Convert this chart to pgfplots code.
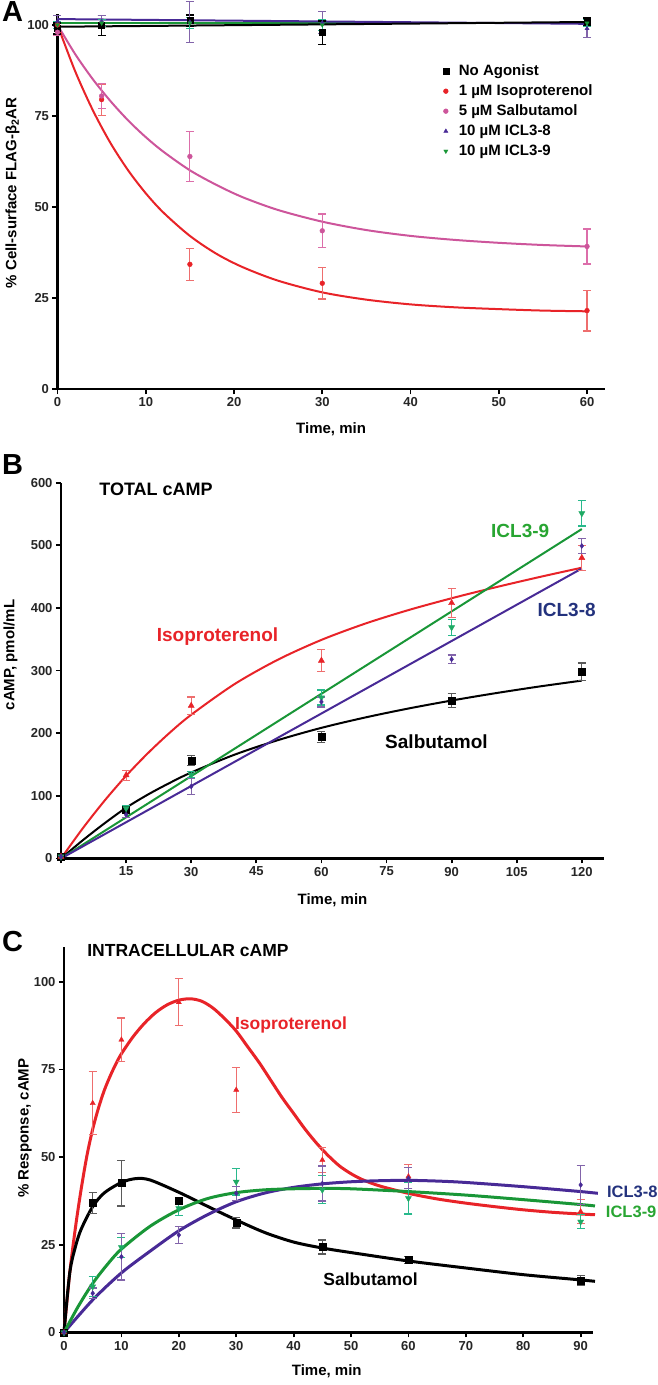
\documentclass[border=0pt]{standalone}
\usepackage{fontspec}
\setmainfont{Liberation Sans}
\usepackage{pgfplots}
\pgfplotsset{compat=1.18}
\definecolor{cred}{RGB}{232,35,40}
\definecolor{credbar}{RGB}{238,110,110}
\definecolor{cpink}{RGB}{205,85,155}
\definecolor{cpinkbar}{RGB}{220,110,170}
\definecolor{cviol}{RGB}{72,42,150}
\definecolor{cviolbar}{RGB}{130,100,170}
\definecolor{cgreen}{RGB}{25,150,55}
\definecolor{cgreenmk}{RGB}{30,170,100}
\definecolor{cgreenbar}{RGB}{40,185,140}
\definecolor{cgray}{RGB}{90,90,90}
\definecolor{clab8}{RGB}{35,50,125}
\definecolor{clab9}{RGB}{40,165,50}
\newcommand\fs[1]{\bfseries\fontsize{#1}{#1}\selectfont}
\pgfplotsset{
 prism/.style={scale only axis, axis x line=bottom, axis y line=left,
   axis line style={-, line width=2.2pt, black},
   tick align=outside, major tick length=5pt,
   tick style={line width=1.8pt, black},
   tick label style={font=\fs{13}, text=black!85},
   /pgf/number format/assume math mode=true,
   label style={font=\fs{15}},
   clip=false, anchor=south west},
 eb/.style={/pgfplots/error bars/y dir=both, /pgfplots/error bars/y explicit,
   /pgfplots/error bars/error bar style={line width=1.2pt, #1},
   /pgfplots/error bars/error mark options={rotate=90, mark size=4pt, line width=1.2pt, #1}},
}
\begin{document}
\begin{tikzpicture}
\useasboundingbox (0,0) rectangle (658pt,1385pt);
% ---------------- Panel A ----------------
\begin{axis}[prism, at={(57.5pt,995.7pt)}, width=547.2pt, height=375.3pt,
  xmin=0, xmax=62, ymin=0, ymax=103,
  xtick={0,10,...,60}, ytick={0,25,50,75,100},
  xlabel={Time, min}, ylabel={\% Cell-surface FLAG-β\textsubscript{2}AR},
  xlabel style={at={(axis description cs:0.5,-0.1066)}, anchor=center},
  ylabel style={at={(axis description cs:-0.0822,0.523)}, anchor=center},
  legend cell align=left,
  legend style={at={(axis cs:43.3,90.1)}, anchor=north west, draw=none, fill=none,
    font=\fs{15}, row sep=4pt, nodes={inner sep=1pt, text height=11pt, text depth=3pt},
    /tikz/every odd column/.append style={column sep=9pt}}]
\addplot[cgreen, line width=2pt, forget plot] coordinates {(0,100.4)(60,100.4)};
\addplot[cpink, line width=2pt, smooth, tension=0.5, forget plot] coordinates {
 (0,100)(2,92.0)(4,85.1)(6,79.1)(8,73.8)(10,69.2)(12,65.2)(15,60.1)(18,56.1)(21,52.7)
 (25,49.2)(30,46.0)(35,43.7)(40,42.1)(45,41.0)(50,40.2)(55,39.6)(60,39.2)};
\addplot[cred, line width=2pt, smooth, tension=0.5, forget plot] coordinates {
 (0,100)(2,87.3)(4,76.6)(6,67.6)(8,60.1)(10,53.8)(12,48.5)(15,42.1)(18,37.2)(21,33.5)
 (25,29.8)(30,26.6)(35,24.6)(40,23.3)(45,22.5)(50,22.0)(55,21.6)(60,21.4)};
\addplot[cviol, line width=2pt, forget plot] coordinates {(0,101.6)(60,100.3)};
\addplot[black, line width=2pt, forget plot] coordinates {(0,99.5)(60,100.8)};
\addplot[only marks, mark=square*, mark size=3pt, black, eb={black}] coordinates {
 (0,99) +- (0,1.5) (5,99.8) +- (0,2.7) (15,101.2) +- (0,1.5) (30,97.9) +- (0,3.2) (60,100.9) +- (0,1)};
\addlegendentry{No Agonist}
\addplot[only marks, mark=*, mark size=2.4pt, cred, eb={credbar}] coordinates {
 (0,100) +- (0,1) (5,79.5) +- (0,4.3) (15,34.3) +- (0,4.4) (30,29.1) +- (0,4.3) (60,21.6) +- (0,5.6)};
\addlegendentry{1 µM Isoproterenol}
\addplot[only marks, mark=*, mark size=2.4pt, cpink, eb={cpinkbar}] coordinates {
 (0,98) +- (0,1) (5,80.5) +- (0,3.5) (15,63.9) +- (0,6.8) (30,43.5) +- (0,4.6) (60,39.2) +- (0,4.8)};
\addlegendentry{5 µM Salbutamol}
\addplot[only marks, mark=triangle*, mark size=2.4pt, cviol, eb={cviolbar}] coordinates {
 (0,101) +- (0,1.5) (5,101) +- (0,1.5) (15,100.8) +- (0,5.6) (30,100.6) +- (0,3) (60,99) +- (0,2.4)};
\addlegendentry{10 µM ICL3-8}
\addplot[only marks, mark=triangle*, mark options={rotate=180}, mark size=2.4pt, cgreen, eb={cgreenbar}] coordinates {
 (0,100) +- (0,1) (5,100.5) +- (0,1) (15,100.5) +- (0,1.5) (30,100) +- (0,1.5) (60,100.5) +- (0,1)};
\addlegendentry{10 µM ICL3-9}
\end{axis}
% ---------------- Panel B ----------------
\begin{axis}[prism, at={(61pt,526.5pt)}, width=543.4pt, height=375.8pt,
  xmin=0, xmax=125.2, ymin=0, ymax=600,
  xtick={0,15,...,120}, xticklabels={,15,30,45,60,75,90,105,120}, ytick={0,100,...,600},
  xlabel={Time, min}, ylabel={cAMP, pmol/mL},
  xlabel style={at={(axis description cs:0.4996,-0.1104)}, anchor=center},
  ylabel style={at={(axis description cs:-0.0929,0.5415)}, anchor=center}]
\addplot[cred, line width=2pt, smooth, tension=0.5] coordinates {
 (0,0)(5,48)(10,92)(15,132)(20,168)(25,200.5)(30,229.5)(40,278.5)(50,317.5)(60,349)
 (70,374.8)(80,396.5)(90,415.5)(100,432.8)(110,449)(120,464.3)};
\addplot[black, line width=2pt, smooth, tension=0.5] coordinates {
 (0,0)(5,29)(10,56)(15,81)(20,102)(25,120.5)(30,137.3)(40,165.8)(50,189)(60,208.6)
 (70,225)(80,239.4)(90,252.2)(100,263.8)(110,274.4)(120,284)};
\addplot[cgreen, line width=2pt] coordinates {(0,0)(120,526)};
\addplot[cviol, line width=2pt] coordinates {(0,0)(120,463)};
\addplot[only marks, mark=square*, mark size=3.5pt, black, eb={cgray}] coordinates {
 (0,3) +- (0,2) (15,77.7) +- (0,6) (30,156) +- (0,8) (60,194) +- (0,9) (90,252) +- (0,11) (120,298) +- (0,14)};
\addplot[only marks, mark=triangle*, mark size=3.5pt, cred, eb={credbar}] coordinates {
 (0,3) +- (0,2) (15,133) +- (0,8) (30,244) +- (0,14) (60,316) +- (0,18) (90,408) +- (0,23) (120,480) +- (0,20)};
\addplot[only marks, mark=triangle*, mark options={rotate=180}, mark size=3.5pt, cgreenmk, eb={cgreenbar}] coordinates {
 (0,3) +- (0,2) (15,80) +- (0,4) (30,134) +- (0,5) (60,257) +- (0,12) (90,369) +- (0,13) (120,551) +- (0,20)};
\addplot[only marks, mark=diamond*, mark size=2.5pt, cviol, eb={cviolbar}] coordinates {
 (0,3) +- (0,2) (15,70) +- (0,4) (30,115) +- (0,13) (60,250) +- (0,8) (90,318) +- (0,7) (120,499) +- (0,12)};
\node[font=\fs{18}] at (axis cs:21.9,590) {TOTAL cAMP};
\node[font=\fs{19}, text=cred] at (axis cs:36.06,354) {Isoproterenol};
\node[font=\fs{19}, text=clab9] at (axis cs:105.8,522.9) {ICL3-9};
\node[font=\fs{19}, text=clab8] at (axis cs:116.5,396.8) {ICL3-8};
\node[font=\fs{19}] at (axis cs:86.5,186.5) {Salbutamol};
\end{axis}
% ---------------- Panel C ----------------
\begin{axis}[prism, at={(64pt,52.5pt)}, width=528.7pt, height=385.6pt,
  xmin=0, xmax=92.1, ymin=0, ymax=110,
  xtick={0,10,...,90}, ytick={0,25,50,75,100},
  xlabel={Time, min}, ylabel={\% Response, cAMP},
  xlabel style={at={(axis description cs:0.497,-0.0998)}, anchor=center},
  ylabel style={at={(axis description cs:-0.0738,0.530)}, anchor=center}]
\addplot[cred, line width=3pt, smooth, tension=0.5] coordinates {
 (0,0)(1,17)(2,30)(3,41)(4,50.5)(5,58)(6,64)(7,69)(8,73)(9,76.5)(10,79.5)(12,84.3)(14,88.2)
 (16,91.3)(18,93.5)(20,94.8)(22,95.2)(24,94.5)(26,92.5)(28,89.5)(30,86)(32,81.5)(34,77)
 (36,72)(38,67)(40,62.5)(42,58)(44,54)(46,50.5)(48,47.5)(50,45.3)(52,43.6)(55,41.8)
 (60,39.7)(65,38.1)(70,36.9)(75,35.9)(80,35)(85,34.3)(90,33.8)(92.5,33.6)};
\addplot[black, line width=3pt, smooth, tension=0.5] coordinates {
 (0,0)(1,17)(2,24.5)(3,29.5)(5,35.9)(7,39.8)(10,42.8)(12.5,43.9)(15,43.5)(20,40)(25,36)(30,32.1)
 (35,28.5)(40,25.8)(45,24.1)(50,22.8)(60,20.4)(70,18.4)(80,16.5)(90,15.0)(92.5,14.6)};
\addplot[cviol, line width=3pt, smooth, tension=0.5] coordinates {
 (0,0)(5,9.3)(10,17)(15,23.2)(20,29)(25,33.6)(30,37.3)(35,39.8)(40,41.4)(45,42.4)(50,43)(55,43.3)
 (60,43.4)(65,43.2)(70,42.8)(80,41.6)(90,40.2)(93,39.7)};
\addplot[cgreen, line width=3pt, smooth, tension=0.5] coordinates {
 (0,0)(2.5,7.5)(5,14)(7.5,19.3)(10,23.8)(15,30.3)(20,35)(25,38.2)(30,39.9)(35,40.7)(40,41.0)
 (45,41.1)(50,41.0)(60,40.2)(70,39.2)(80,37.9)(90,36.5)(92.5,36.1)};
\addplot[only marks, mark=square*, mark size=3.5pt, black, eb={cgray}] coordinates {
 (0,0) +- (0,0.5) (5,36.9) +- (0,3) (10,42.6) +- (0,6.5) (20,37.6) +- (0,1) (30,31.3) +- (0,1.5)
 (45,24.4) +- (0,2) (60,20.7) +- (0,1) (90,14.8) +- (0,1.5)};
\addplot[only marks, mark=triangle*, mark size=3pt, cred, eb={credbar}] coordinates {
 (0,0) +- (0,0.5) (5,65.4) +- (0,9) (10,83.5) +- (0,6.2) (20,94.2) +- (0,6.7) (30,69.2) +- (0,6.4)
 (45,49.2) +- (0,3.5) (60,44.5) +- (0,3.4) (90,34.5) +- (0,3.5)};
\addplot[only marks, mark=triangle*, mark options={rotate=180}, mark size=3.5pt, cgreenmk, eb={cgreenbar}] coordinates {
 (0,0) +- (0,0.5) (5,13.1) +- (0,2.8) (10,24.3) +- (0,2.8) (20,35.4) +- (0,2) (30,43) +- (0,3.8)
 (45,40.7) +- (0,4) (60,38.3) +- (0,4.5) (90,31.6) +- (0,2)};
\addplot[only marks, mark=diamond*, mark size=2.5pt, cviol, eb={cviolbar}] coordinates {
 (0,0) +- (0,0.5) (5,11.2) +- (0,1.5) (10,21.6) +- (0,6.6) (20,27.8) +- (0,2.5) (30,39.7) +- (0,2)
 (45,42.5) +- (0,5) (60,44) +- (0,3) (90,42.1) +- (0,5.5)};
\node[font=\fs{17.5}] at (axis cs:21.6,109.1) {INTRACELLULAR cAMP};
\node[font=\fs{17.5}, text=cred] at (axis cs:39.54,87.7) {Isoproterenol};
\node[font=\fs{17.5}] at (axis cs:53.4,15.3) {Salbutamol};
\node[font=\fs{16.5}, text=clab8, anchor=west] at (axis cs:94.0,40.1) {ICL3-8};
\node[font=\fs{16.5}, text=clab9, anchor=west] at (axis cs:93.8,34.4) {ICL3-9};
\end{axis}
% panel letters
\node[font=\fs{29}] at (12.5pt,1373pt) {A};
\node[font=\fs{29}] at (12.5pt,920pt) {B};
\node[font=\fs{29}] at (12.5pt,443pt) {C};
\end{tikzpicture}
\end{document}
